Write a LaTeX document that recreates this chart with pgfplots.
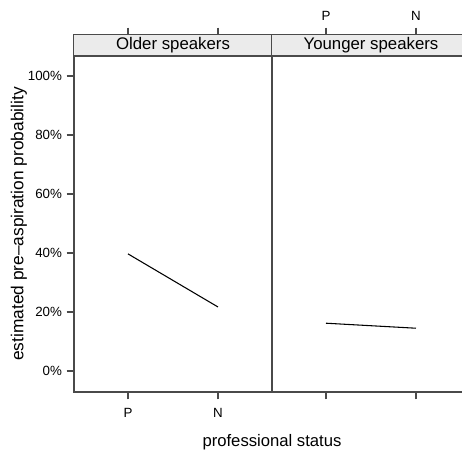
\documentclass[border=0pt]{standalone}
\usepackage{pgfplots}
\pgfplotsset{compat=1.18}
\usepackage{fontspec}
\setmainfont{Liberation Sans}
\definecolor{frame}{HTML}{4A4A4A}
\definecolor{strip}{HTML}{EBEBEB}
\pgfplotsset{
  panel/.style={
    scale only axis, width=148.5pt, height=267.75pt,
    xmin=0.4, xmax=2.6, ymin=-7.12, ymax=113.9,
    xtick={1,2}, xtick pos=both, tick align=outside,
    major tick length=5.5pt,
    axis line style={frame, line width=0.8pt},
    every tick/.style={frame, line width=0.8pt},
    tick label style={font=\fontsize{10}{12}\selectfont},
    /pgf/number format/assume math mode=true,
    clip=true,
  },
}
\begin{document}
\begin{tikzpicture}
\begin{axis}[panel, name=left, anchor=south west, at={(55.5pt,-294pt)},
  ytick={0,20,40,60,80,100}, yticklabels={0\%,20\%,40\%,60\%,80\%,100\%},
  ytick pos=left,
  xticklabels={P,N}, xticklabel pos=bottom,
  xticklabel style={yshift=-3pt},
]
\fill[strip] (rel axis cs:0,0.9412) rectangle (rel axis cs:1,1);
\draw[frame, line width=0.8pt] (rel axis cs:0,0.9412) -- (rel axis cs:1,0.9412);
\node[font=\fontsize{12.6}{15}\selectfont] at (rel axis cs:0.5,0.9706) {Older speakers};
\addplot[black, line width=0.8pt] coordinates {(1,39.7) (2,21.7)};
\end{axis}
\begin{axis}[panel, name=right, anchor=south west, at={(204pt,-294pt)},
  ytick=\empty,
  xticklabels={P,N}, xticklabel pos=top,
  xticklabel style={yshift=1.5pt},
]
\fill[strip] (rel axis cs:0,0.9412) rectangle (rel axis cs:1,1);
\draw[frame, line width=0.8pt] (rel axis cs:0,0.9412) -- (rel axis cs:1,0.9412);
\node[font=\fontsize{12.6}{15}\selectfont] at (rel axis cs:0.5,0.9706) {Younger speakers};
\addplot[black, line width=0.8pt] coordinates {(1,16.2) (2,14.5)};
\end{axis}
\node[font=\fontsize{12.5}{15}\selectfont] at (204pt,-331.5pt) {professional status};
\node[font=\fontsize{13}{15}\selectfont, rotate=90] at (14.25pt,-168pt) {estimated pre--aspiration probability};
\pgfresetboundingbox
\path[use as bounding box] (0,0) rectangle (346.5pt,-338.25pt);
\end{tikzpicture}
\end{document}
